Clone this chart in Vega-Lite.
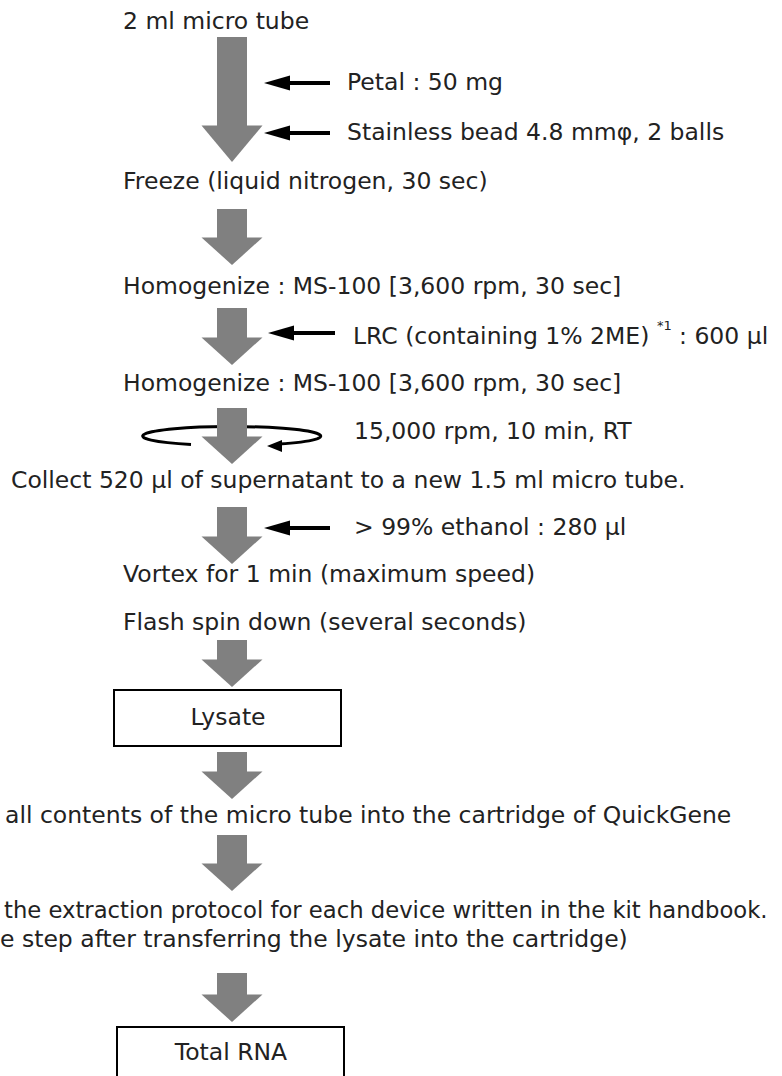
{
  "$schema": "https://vega.github.io/schema/vega-lite/v6.json",
  "width": 782,
  "height": 1076,
  "padding": 0,
  "autosize": {"type": "fit", "contains": "padding"},
  "background": "white",
  "config": {"view": {"stroke": null}},
  "datasets": {
    "steps": [
      {"label": "2 ml micro tube", "x": 123, "y": 22},
      {"label": "Petal : 50 mg", "x": 347, "y": 83},
      {"label": "Stainless bead 4.8 mmφ, 2 balls", "x": 347, "y": 133},
      {"label": "Freeze (liquid nitrogen, 30 sec)", "x": 123, "y": 182},
      {"label": "Homogenize : MS-100 [3,600 rpm, 30 sec]", "x": 123, "y": 287},
      {"label": "LRC (containing 1% 2ME)", "x": 353, "y": 337},
      {"label": ": 600 µl", "x": 679, "y": 337},
      {"label": "Homogenize : MS-100 [3,600 rpm, 30 sec]", "x": 123, "y": 384},
      {"label": "15,000 rpm, 10 min, RT", "x": 354, "y": 432},
      {"label": "Collect 520 µl of supernatant to a new 1.5 ml micro tube.", "x": 11, "y": 481},
      {"label": "> 99% ethanol : 280 µl", "x": 354, "y": 528},
      {"label": "Vortex for 1 min (maximum speed)", "x": 123, "y": 575},
      {"label": "Flash spin down (several seconds)", "x": 123, "y": 623},
      {"label": "all contents of the micro tube into the cartridge of QuickGene", "x": 5, "y": 816},
      {"label": "e step after transferring the lysate into the cartridge)", "x": 0, "y": 940}
    ],
    "wide": [
      {"label": "the extraction protocol for each device written in the kit handbook.", "x": 4, "y": 911}
    ],
    "centered": [
      {"label": "Lysate", "x": 228, "y": 718},
      {"label": "Total RNA", "x": 231, "y": 1053}
    ],
    "sup": [
      {"label": "*1", "x": 657, "y": 326}
    ],
    "shafts": [
      {"x": 232, "y": 37, "y2": 126, "kind": "long"},
      {"x": 232, "y": 209, "y2": 238, "kind": "short"},
      {"x": 232, "y": 308, "y2": 338, "kind": "short"},
      {"x": 232, "y": 408, "y2": 437, "kind": "short"},
      {"x": 232, "y": 507, "y2": 537, "kind": "short"},
      {"x": 232, "y": 640, "y2": 660, "kind": "short"},
      {"x": 232, "y": 752, "y2": 772, "kind": "short"},
      {"x": 232, "y": 835, "y2": 864, "kind": "short"},
      {"x": 232, "y": 973, "y2": 995, "kind": "short"}
    ],
    "pointers": [
      {"x": 264, "x2": 330, "y": 83},
      {"x": 264, "x2": 330, "y": 133},
      {"x": 268, "x2": 335, "y": 333},
      {"x": 264, "x2": 330, "y": 528}
    ],
    "spin": [{"x": 231, "y": 436}],
    "spinHead": [{"x": 267, "y": 446}],
    "boxes": [
      {"x": 114, "x2": 341, "y": 690, "y2": 746},
      {"x": 117, "x2": 344, "y": 1027, "y2": 1100}
    ]
  },
  "encoding": {
    "x": {"field": "x", "type": "quantitative", "scale": {"domain": [0, 782], "nice": false, "zero": false}, "axis": null},
    "y": {"field": "y", "type": "quantitative", "scale": {"domain": [0, 1076], "nice": false, "zero": false, "reverse": true}, "axis": null}
  },
  "layer": [
    {
      "data": {"name": "spin"},
      "mark": {"type": "point", "filled": false, "stroke": "#000000", "strokeWidth": 3, "opacity": 1, "size": 4,
               "shape": "M-40,8.5A89,9.5,0,1,1,48,8.1"}
    },
    {
      "data": {"name": "spinHead"},
      "mark": {"type": "point", "filled": true, "color": "#000000", "opacity": 1, "size": 4,
               "shape": "M0,0L15,-6L15,6Z"}
    },
    {
      "data": {"name": "shafts"},
      "mark": {"type": "rule", "color": "#808080", "strokeWidth": 30, "strokeCap": "butt"},
      "encoding": {"y2": {"field": "y2"}}
    },
    {
      "data": {"name": "shafts"},
      "mark": {"type": "point", "filled": true, "color": "#808080", "opacity": 1, "size": 4},
      "encoding": {
        "y": {"field": "y2", "type": "quantitative"},
        "shape": {"field": "kind", "type": "nominal", "legend": null,
                  "scale": {"domain": ["long", "short"], "range": ["M-30.5,-0.5L30.5,-0.5L0,36Z", "M-30.5,-0.5L30.5,-0.5L0,27Z"]}}
      }
    },
    {
      "data": {"name": "pointers"},
      "mark": {"type": "rule", "color": "#000000", "strokeWidth": 4, "strokeCap": "butt", "xOffset": 14},
      "encoding": {"x2": {"field": "x2"}}
    },
    {
      "data": {"name": "pointers"},
      "mark": {"type": "point", "filled": true, "color": "#000000", "opacity": 1, "size": 4,
               "shape": "M0,0L26,-7.5L26,7.5Z"}
    },
    {
      "data": {"name": "boxes"},
      "mark": {"type": "rect", "fill": null, "stroke": "#000000", "strokeWidth": 2, "clip": true},
      "encoding": {"x2": {"field": "x2"}, "y2": {"field": "y2"}}
    },
    {
      "data": {"name": "steps"},
      "mark": {"type": "text", "align": "left", "baseline": "middle", "font": "DejaVu Sans", "fontSize": 23.5, "color": "#222222", "clip": true},
      "encoding": {"text": {"field": "label", "type": "nominal"}}
    },
    {
      "data": {"name": "wide"},
      "mark": {"type": "text", "align": "left", "baseline": "middle", "font": "DejaVu Sans", "fontSize": 22.7, "color": "#222222"},
      "encoding": {"text": {"field": "label", "type": "nominal"}}
    },
    {
      "data": {"name": "centered"},
      "mark": {"type": "text", "align": "center", "baseline": "middle", "font": "DejaVu Sans", "fontSize": 23.5, "color": "#222222"},
      "encoding": {"text": {"field": "label", "type": "nominal"}}
    },
    {
      "data": {"name": "sup"},
      "mark": {"type": "text", "align": "left", "baseline": "middle", "font": "DejaVu Sans", "fontSize": 13, "color": "#222222"},
      "encoding": {"text": {"field": "label", "type": "nominal"}}
    }
  ]
}
